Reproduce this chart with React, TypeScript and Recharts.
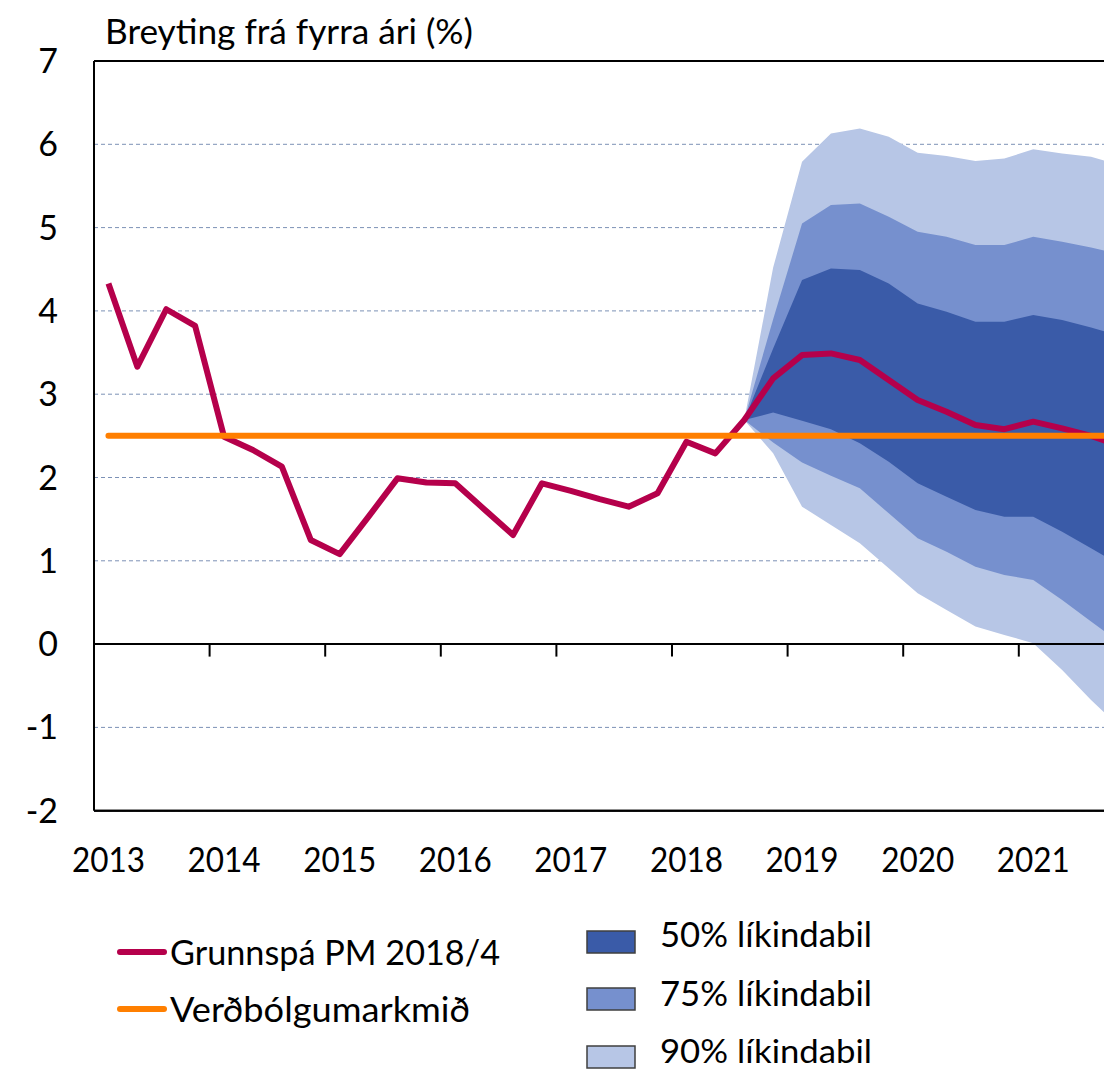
import React from 'react';
import {
  ComposedChart,
  Area,
  Line,
  XAxis,
  YAxis,
  CartesianGrid,
  ReferenceLine,
} from 'recharts';

// Quarters 2013K1 .. 2021K4
const quarters = [
  '2013K1', '2013K2', '2013K3', '2013K4',
  '2014K1', '2014K2', '2014K3', '2014K4',
  '2015K1', '2015K2', '2015K3', '2015K4',
  '2016K1', '2016K2', '2016K3', '2016K4',
  '2017K1', '2017K2', '2017K3', '2017K4',
  '2018K1', '2018K2', '2018K3', '2018K4',
  '2019K1', '2019K2', '2019K3', '2019K4',
  '2020K1', '2020K2', '2020K3', '2020K4',
  '2021K1', '2021K2', '2021K3', '2021K4',
];

const yearLabels = ['2013', '2014', '2015', '2016', '2017', '2018', '2019', '2020', '2021'];
const yearLabelPositions = [0, 4, 8, 12, 16, 20, 24, 28, 32];
const yearBoundaries = [3.5, 7.5, 11.5, 15.5, 19.5, 23.5, 27.5, 31.5];
const yTicks = [-2, -1, 0, 1, 2, 3, 4, 5, 6, 7];

// Grunnspá PM 2018/4 (inflation, %)
const inflation = [
  4.33, 3.33, 4.02, 3.82,
  2.49, 2.33, 2.13, 1.25,
  1.08, 1.53, 1.99, 1.94,
  1.93, 1.62, 1.31, 1.93,
  1.84, 1.74, 1.65, 1.81,
  2.43, 2.29, 2.69, 3.19,
  3.47, 3.49, 3.41, 3.17,
  2.93, 2.79, 2.63, 2.58,
  2.67, 2.59, 2.5, 2.38,
];

// Verðbólgumarkmið
const target = [
  2.5, 2.5, 2.5, 2.5, 2.5, 2.5, 2.5, 2.5, 2.5, 2.5, 2.5, 2.5,
  2.5, 2.5, 2.5, 2.5, 2.5, 2.5, 2.5, 2.5, 2.5, 2.5, 2.5, 2.5,
  2.5, 2.5, 2.5, 2.5, 2.5, 2.5, 2.5, 2.5, 2.5, 2.5, 2.5, 2.5,
];

// Fan chart starts at 2018K3 (index 22)
const fanStartIndex = 22;
const upper90 = [2.69, 4.52, 5.79, 6.13, 6.19, 6.09, 5.9, 5.86, 5.8, 5.83, 5.94, 5.89, 5.85, 5.75];
const upper75 = [2.69, 3.9, 5.05, 5.27, 5.29, 5.13, 4.95, 4.89, 4.79, 4.79, 4.89, 4.83, 4.76, 4.68];
const upper50 = [2.69, 3.55, 4.37, 4.51, 4.49, 4.33, 4.09, 3.99, 3.87, 3.87, 3.95, 3.89, 3.8, 3.7];
const lower50 = [2.69, 2.78, 2.68, 2.58, 2.41, 2.19, 1.93, 1.77, 1.61, 1.53, 1.53, 1.35, 1.15, 0.95];
const lower75 = [2.69, 2.42, 2.18, 2.02, 1.87, 1.57, 1.27, 1.11, 0.93, 0.83, 0.77, 0.53, 0.27, 0.02];
const lower90 = [2.69, 2.29, 1.65, 1.43, 1.21, 0.91, 0.61, 0.41, 0.21, 0.11, 0.01, -0.31, -0.67, -1.0];

const seriesNames = {
  inflation: 'Grunnspá PM 2018/4',
  target: 'Verðbólgumarkmið',
  r50: '50% líkindabil',
  r75: '75% líkindabil',
  r90: '90% líkindabil',
};

const COLORS = {
  inflation: '#B5004B',
  target: '#FF7F00',
  r50: '#3A5BA8',
  r75: '#7690CE',
  r90: '#B7C6E6',
  grid: '#7C91B6',
};

const FONT = 'Lato, "Open Sans", sans-serif';

const data = quarters.map((q, i) => {
  const k = i - fanStartIndex;
  const inFan = k >= 0 && k < upper90.length;
  return {
    i,
    q,
    inflation: inflation[i],
    target: target[i],
    r90: inFan ? [lower90[k], upper90[k]] : undefined,
    r75: inFan ? [lower75[k], upper75[k]] : undefined,
    r50: inFan ? [lower50[k], upper50[k]] : undefined,
  };
});

const XTick = (props: any) => {
  const { x, payload } = props;
  const idx = yearLabelPositions.indexOf(payload.value);
  const label = idx >= 0 ? yearLabels[idx] : '';
  return (
    <text
      x={x}
      y={872}
      textAnchor="middle"
      fontFamily={FONT}
      fontSize={34}
      fill="#000"
      textLength={73}
      lengthAdjust="spacingAndGlyphs"
    >
      {label}
    </text>
  );
};

const YTick = (props: any) => {
  const { y, payload } = props;
  return (
    <text x={58} y={y + 12} textAnchor="end" fontFamily={FONT} fontSize={34} fill="#000">
      {payload.value}
    </text>
  );
};

const Overlay = () => (
  <svg
    width={1104}
    height={1072}
    style={{ position: 'absolute', left: 0, top: 0, pointerEvents: 'none' }}
  >
    <text
      x={105}
      y={44}
      fontFamily={FONT}
      fontSize={34}
      fill="#000"
      textLength={368}
      lengthAdjust="spacingAndGlyphs"
    >
      Breyting frá fyrra ári (%)
    </text>

    <line x1={120} y1={952} x2={164} y2={952} stroke={COLORS.inflation} strokeWidth={6} strokeLinecap="round" />
    <text x={170} y={965} fontFamily={FONT} fontSize={35} fill="#000" textLength={330} lengthAdjust="spacingAndGlyphs">
      {seriesNames.inflation}
    </text>
    <line x1={120} y1={1009} x2={164} y2={1009} stroke={COLORS.target} strokeWidth={6} strokeLinecap="round" />
    <text x={170} y={1022} fontFamily={FONT} fontSize={35} fill="#000" textLength={300} lengthAdjust="spacingAndGlyphs">
      {seriesNames.target}
    </text>

    <rect x={587} y={931} width={48} height={22} fill={COLORS.r50} stroke="#3F3F3F" strokeWidth={1.5} />
    <text x={660} y={947} fontFamily={FONT} fontSize={34} fill="#000" textLength={212} lengthAdjust="spacingAndGlyphs">
      {seriesNames.r50}
    </text>
    <rect x={587} y={988} width={48} height={22} fill={COLORS.r75} stroke="#3F3F3F" strokeWidth={1.5} />
    <text x={660} y={1006} fontFamily={FONT} fontSize={34} fill="#000" textLength={212} lengthAdjust="spacingAndGlyphs">
      {seriesNames.r75}
    </text>
    <rect x={587} y={1046} width={48} height={22} fill={COLORS.r90} stroke="#3F3F3F" strokeWidth={1.5} />
    <text x={660} y={1063} fontFamily={FONT} fontSize={33} fill="#000" textLength={212} lengthAdjust="spacingAndGlyphs">
      {seriesNames.r90}
    </text>
  </svg>
);

export default function App() {
  return (
    <div
      style={{
        position: 'fixed',
        left: 0,
        top: 0,
        width: 1104,
        height: 1072,
        overflow: 'hidden',
        background: '#fff',
      }}
    >
      <ComposedChart
        width={1140}
        height={1072}
        data={data}
        margin={{ top: 61, right: 5.6, bottom: 201.3, left: 0 }}
      >
        <CartesianGrid horizontal vertical={false} stroke={COLORS.grid} strokeDasharray="4 3" strokeWidth={1} />
        <XAxis
          dataKey="i"
          type="number"
          domain={[-0.5, 35.5]}
          ticks={yearLabelPositions}
          interval={0}
          height={60}
          allowDataOverflow
          axisLine={{ stroke: '#000', strokeWidth: 2 }}
          tickLine={false}
          tick={<XTick />}
        />
        <YAxis
          type="number"
          domain={[-2, 7]}
          ticks={yTicks}
          interval={0}
          width={94}
          allowDataOverflow
          axisLine={{ stroke: '#000', strokeWidth: 2 }}
          tickLine={false}
          tick={<YTick />}
        />
        <Area
          type="linear"
          dataKey="r90"
          name={seriesNames.r90}
          fill={COLORS.r90}
          fillOpacity={1}
          stroke="none"
          isAnimationActive={false}
          activeDot={false}
        />
        <Area
          type="linear"
          dataKey="r75"
          name={seriesNames.r75}
          fill={COLORS.r75}
          fillOpacity={1}
          stroke="none"
          isAnimationActive={false}
          activeDot={false}
        />
        <Area
          type="linear"
          dataKey="r50"
          name={seriesNames.r50}
          fill={COLORS.r50}
          fillOpacity={1}
          stroke="none"
          isAnimationActive={false}
          activeDot={false}
        />
        <ReferenceLine y={0} stroke="#000" strokeWidth={2} />
        <ReferenceLine y={7} stroke="#000" strokeWidth={2} />
        <ReferenceLine y={-2} stroke="#000" strokeWidth={2} />
        {yearBoundaries.map((b) => (
          <ReferenceLine
            key={b}
            segment={[
              { x: b, y: 0 },
              { x: b, y: -0.15 },
            ]}
            stroke="#000"
            strokeWidth={2}
          />
        ))}
        <Line
          type="linear"
          dataKey="inflation"
          name={seriesNames.inflation}
          stroke={COLORS.inflation}
          strokeWidth={6}
          strokeLinejoin="round"
          dot={false}
          activeDot={false}
          isAnimationActive={false}
        />
        <Line
          type="linear"
          dataKey="target"
          name={seriesNames.target}
          stroke={COLORS.target}
          strokeWidth={6}
          strokeLinecap="round"
          dot={false}
          activeDot={false}
          isAnimationActive={false}
        />
      </ComposedChart>
      <Overlay />
    </div>
  );
}
